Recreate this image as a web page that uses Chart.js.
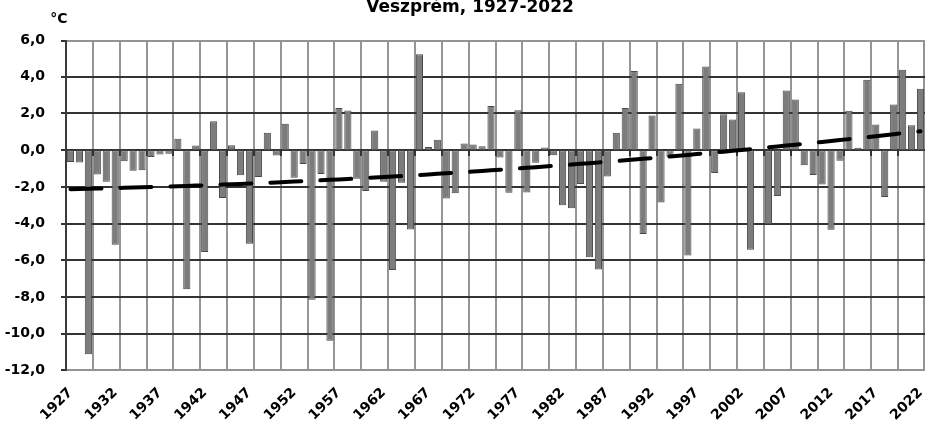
<!DOCTYPE html>
<html>
<head>
<meta charset="utf-8">
<script src="https://cdn.jsdelivr.net/npm/chart.js@4.4.1/dist/chart.umd.min.js"></script>
<style>
  html, body { margin: 0; padding: 0; background: #ffffff; }
  #c { display: block; }
</style>
</head>
<body>
<canvas id="c" width="925" height="422"></canvas>
<script>
// ---------- data ----------
const titleText = 'Veszprém, 1927-2022';
const unitText = '°C';

const years = [
  '1927','1928','1929','1930','1931','1932','1933','1934','1935','1936','1937','1938',
  '1939','1940','1941','1942','1943','1944','1945','1946','1947','1948','1949','1950',
  '1951','1952','1953','1954','1955','1956','1957','1958','1959','1960','1961','1962',
  '1963','1964','1965','1966','1967','1968','1969','1970','1971','1972','1973','1974',
  '1975','1976','1977','1978','1979','1980','1981','1982','1983','1984','1985','1986',
  '1987','1988','1989','1990','1991','1992','1993','1994','1995','1996','1997','1998',
  '1999','2000','2001','2002','2003','2004','2005','2006','2007','2008','2009','2010',
  '2011','2012','2013','2014','2015','2016','2017','2018','2019','2020','2021','2022'
];

const anomalies = [
  -0.65, -0.67, -11.12, -1.32, -1.72, -5.15, -0.60, -1.12, -1.10, -0.37, -0.24, -0.20,
   0.62, -7.58,   0.26, -5.55,  1.58, -2.60,  0.27, -1.36, -5.10, -1.46,  0.95, -0.29,
   1.44, -1.50,  -0.75, -8.15, -1.30,-10.38,  2.30,  2.16, -1.55, -2.22,  1.07, -1.72,
  -6.52, -1.77,  -4.32,  5.22,  0.17,  0.57, -2.63, -2.34,  0.36,  0.31,  0.22,  2.41,
  -0.40, -2.32,   2.17, -2.31, -0.69,  0.15, -0.28, -3.00, -3.16, -1.84, -5.83, -6.50,
  -1.44,  0.95,   2.29,  4.31, -4.56,  1.89, -2.85, -0.36,  3.62, -5.74,  1.18,  4.56,
  -1.24,  1.96,   1.67,  3.16, -5.42,  0.00, -4.04, -2.50,  3.25,  2.76, -0.82, -1.35,
  -1.87, -4.33,  -0.58,  2.15,  0.13,  3.84,  1.40, -2.55,  2.49,  4.38,  1.36,  3.35
];

const labeledYears = ['1927','1932','1937','1942','1947','1952','1957','1962','1967','1972',
  '1977','1982','1987','1992','1997','2002','2007','2012','2017','2022'];

const yTickValues = [6, 4, 2, 0, -2, -4, -6, -8, -10, -12];

// ---------- polynomial (order 2) trendline, least squares on the data ----------
function quadTrend(vals) {
  const n = vals.length;
  const S = [0, 0, 0, 0, 0], T = [0, 0, 0];
  for (let i = 0; i < n; i++) {
    const t = i + 1;
    let p = 1;
    for (let k = 0; k < 5; k++) { S[k] += p; if (k < 3) T[k] += vals[i] * p; p *= t; }
  }
  const M = [[S[0], S[1], S[2], T[0]], [S[1], S[2], S[3], T[1]], [S[2], S[3], S[4], T[2]]];
  for (let c = 0; c < 3; c++) {
    for (let r = c + 1; r < 3; r++) {
      const f = M[r][c] / M[c][c];
      for (let k = c; k < 4; k++) M[r][k] -= f * M[c][k];
    }
  }
  const coef = [0, 0, 0];
  for (let r = 2; r >= 0; r--) {
    let s = M[r][3];
    for (let k = r + 1; k < 3; k++) s -= M[r][k] * coef[k];
    coef[r] = s / M[r][r];
  }
  return vals.map((_, i) => { const t = i + 1; return coef[0] + coef[1] * t + coef[2] * t * t; });
}
const trend = quadTrend(anomalies);

// ---------- decorations ----------
const FONT = '"DejaVu Sans", "Liberation Sans", Arial, sans-serif';
const DARK = '#333333';
const LIGHT = '#969696';
const FRAME = '#939393';
const LW = 2;

const gridPlugin = {
  id: 'gridPlugin',
  beforeDatasetsDraw(chart) {
    const { ctx, chartArea: a, scales: { x, y } } = chart;
    const n = years.length;
    const w = x.getPixelForValue(1) - x.getPixelForValue(0);
    const L = Math.round(a.left), R = Math.round(a.right);
    const T = Math.round(a.top), B = Math.round(a.bottom);
    ctx.save();
    // vertical gridlines every 3 categories
    ctx.fillStyle = LIGHT;
    for (let i = 3; i < n; i += 3) {
      const px = Math.round(x.getPixelForValue(0) - w / 2 + i * w);
      ctx.fillRect(px - 1, T, LW, B - T);
    }
    // right frame
    ctx.fillStyle = FRAME;
    ctx.fillRect(R - LW, T, LW, B - T);
    // horizontal gridlines + y tick marks
    for (const v of yTickValues) {
      let py = Math.round(y.getPixelForValue(v)) - 1;
      if (v === 6) py = T;
      if (v === -12) py = B - LW;
      ctx.fillStyle = (v === 6 || v === -12) ? FRAME : DARK;
      ctx.fillRect(L, py, R - L, LW);
      ctx.fillStyle = DARK;
      ctx.fillRect(L - 5, py, 5, LW);
    }
    // left axis line
    ctx.fillStyle = '#3a3a3a';
    ctx.fillRect(L - 1, T, LW, B - T);
    // tick marks below the zero line at category-group boundaries
    const y0 = Math.round(y.getPixelForValue(0));
    ctx.fillStyle = DARK;
    for (let i = 3; i < n; i += 3) {
      const px = Math.round(x.getPixelForValue(0) - w / 2 + i * w);
      ctx.fillRect(px - 1, y0, LW, 6);
    }
    ctx.restore();
  },
  afterDraw(chart) {
    const { ctx } = chart;
    ctx.save();
    ctx.fillStyle = '#000000';
    ctx.textAlign = 'center';
    ctx.textBaseline = 'alphabetic';
    ctx.font = 'bold 17px ' + FONT;
    ctx.fillText(titleText, 470, 11.5);
    ctx.font = 'bold 14px ' + FONT;
    ctx.fillText(unitText, 59, 23);
    ctx.restore();
  }
};

Chart.defaults.font.family = FONT;

new Chart(document.getElementById('c'), {
  data: {
    labels: years,
    datasets: [
      {
        type: 'line',
        data: trend,
        borderColor: '#000000',
        borderWidth: 4,
        borderDash: [31, 19],
        borderCapStyle: 'round',
        pointRadius: 0,
        fill: false,
        tension: 0,
        order: 0
      },
      {
        type: 'bar',
        data: anomalies,
        backgroundColor: '#7c7c7c',
        borderColor: '#4a4a4a',
        borderWidth: 1,
        borderSkipped: false,
        barPercentage: 0.8,
        categoryPercentage: 1.0,
        order: 1
      }
    ]
  },
  options: {
    responsive: false,
    animation: false,
    devicePixelRatio: 1,
    layout: { padding: { top: 40, left: 0, right: 0, bottom: 0 } },
    plugins: { legend: { display: false }, tooltip: { enabled: false }, title: { display: false } },
    scales: {
      x: {
        type: 'category',
        offset: true,
        grid: { display: false, offset: true, drawTicks: false },
        border: { display: false },
        ticks: {
          autoSkip: false,
          maxRotation: 45,
          minRotation: 45,
          padding: 14,
          color: '#000000',
          font: { size: 14, weight: 'bold', family: FONT },
          callback: function (v, i) { const lab = years[i]; return labeledYears.includes(lab) ? lab : ''; }
        },
        afterFit: (s) => { s.height = 51.5; s.paddingLeft = 0; s.paddingRight = 0; }
      },
      y: {
        type: 'linear',
        min: -12,
        max: 6,
        afterBuildTicks: (s) => { s.ticks = yTickValues.map(v => ({ value: v })); },
        grid: { display: false, drawTicks: true, tickLength: 5 },
        border: { display: false },
        ticks: {
          padding: 16,
          color: '#000000',
          font: { size: 14, weight: 'bold', family: FONT },
          callback: (v) => v.toFixed(1).replace('.', ',').replace('-0,0', '0,0')
        },
        afterFit: (s) => { s.width = 66; s.paddingTop = 0; s.paddingBottom = 0; }
      }
    }
  },
  plugins: [gridPlugin]
});
</script>
</body>
</html>
